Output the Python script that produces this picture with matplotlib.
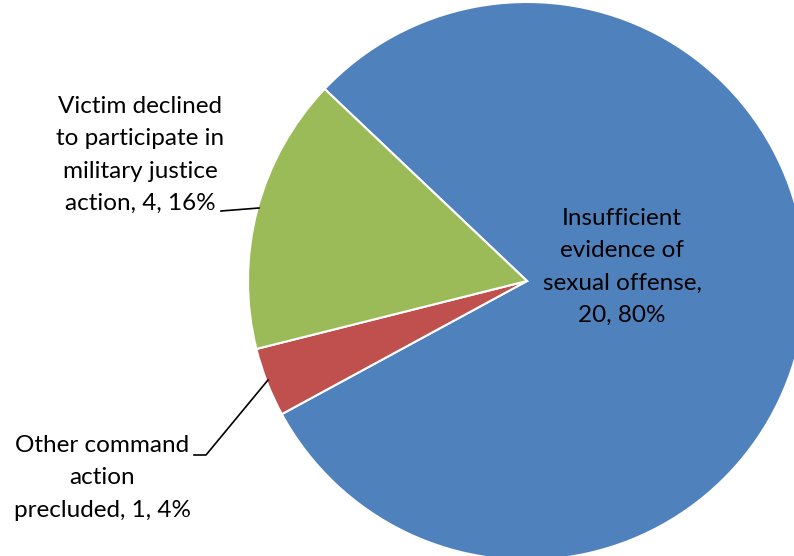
import matplotlib.pyplot as plt

# slices in drawing order (clockwise from the start angle)
labels = ['Insufficient\nevidence of\nsexual offense,',
          'Other command\naction\nprecluded,',
          'Victim declined\nto participate in\nmilitary justice\naction,']
counts = [20, 1, 4]
colors = ['#4f81bd', '#c0504d', '#9bbb59']
# where each label breaks before the value
seps = ['\n', ' ', ' ']

plt.rcParams['font.family'] = ['Lato', 'DejaVu Sans']

W, H = 794, 556
fig = plt.figure(figsize=(W / 100, H / 100), dpi=100)
ax = fig.add_axes([0, 0, 1, 1])

cx, cy, r = 527, H - 281, 279
ax.pie(counts, colors=colors, startangle=136.5, counterclock=False,
       center=(cx, cy), radius=r, frame=True,
       wedgeprops=dict(edgecolor='white', linewidth=1.5))
ax.set_xlim(0, W)
ax.set_ylim(0, H)
ax.set_aspect('equal')
ax.axis('off')

total = sum(counts)
txt = [f"{l}{s}{c}, {round(100 * c / total)}%"
       for l, s, c in zip(labels, seps, counts)]

# label positions (pixel centres, y from top)
pos = [(622, 267), (102, 478), (140, 155)]
fs = 17.5
for t, (x, y) in zip(txt, pos):
    ax.text(x, H - y, t, ha='center', va='center', fontsize=fs,
            linespacing=1.65)

# leader lines
ax.plot([221, 259], [H - 211, H - 208], color='black', lw=1.2)
ax.plot([194, 206, 268], [H - 455, H - 455, H - 380], color='black', lw=1.2)

fig.savefig('out.png', dpi=100)
